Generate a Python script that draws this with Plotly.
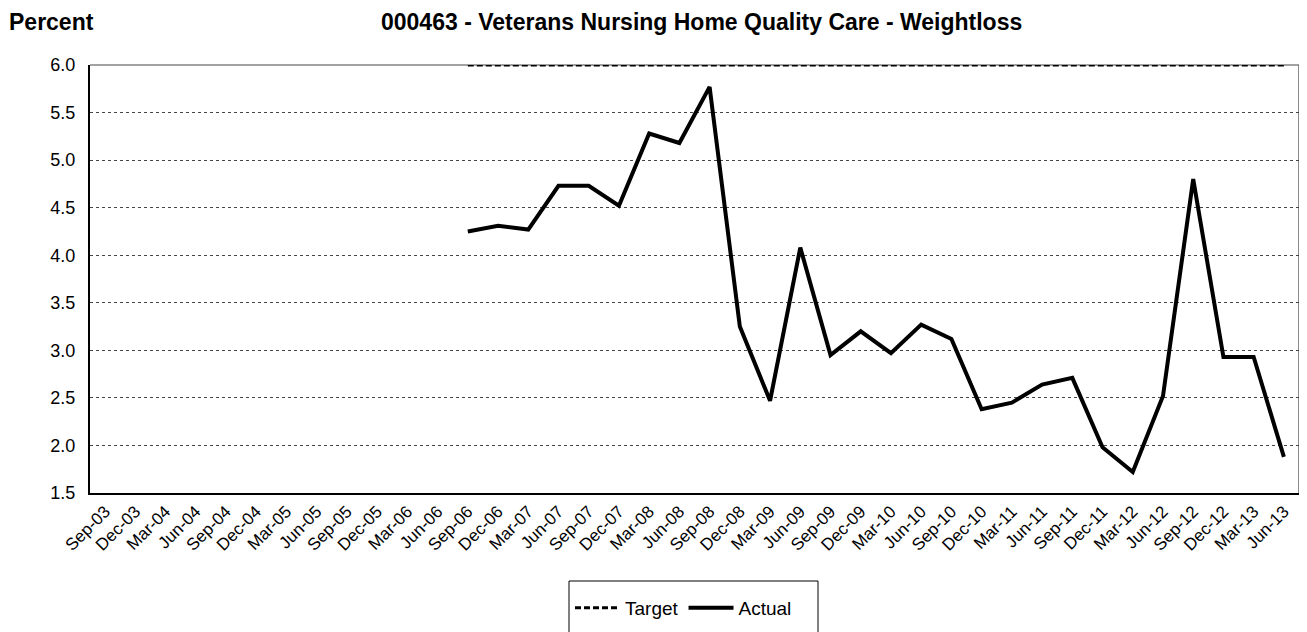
import plotly.graph_objects as go

categories = ["Sep-03", "Dec-03", "Mar-04", "Jun-04", "Sep-04", "Dec-04", "Mar-05", "Jun-05",
              "Sep-05", "Dec-05", "Mar-06", "Jun-06", "Sep-06", "Dec-06", "Mar-07", "Jun-07",
              "Sep-07", "Dec-07", "Mar-08", "Jun-08", "Sep-08", "Dec-08", "Mar-09", "Jun-09",
              "Sep-09", "Dec-09", "Mar-10", "Jun-10", "Sep-10", "Dec-10", "Mar-11", "Jun-11",
              "Sep-11", "Dec-11", "Mar-12", "Jun-12", "Sep-12", "Dec-12", "Mar-13", "Jun-13"]

N = None
target = [N] * 12 + [6.0] * 28
actual = [N] * 12 + [4.25, 4.31, 4.27, 4.73, 4.73, 4.52, 5.28, 5.18, 5.77, 3.25,
                     2.47, 4.08, 2.95, 3.20, 2.97, 3.27, 3.12, 2.38, 2.45, 2.64,
                     2.71, 1.98, 1.72, 2.52, 4.80, 2.93, 2.93, 1.88]
y_ticks = [1.5, 2.0, 2.5, 3.0, 3.5, 4.0, 4.5, 5.0, 5.5, 6.0]

FONT = "Arial, Liberation Sans, sans-serif"
TITLE = "000463 - Veterans Nursing Home Quality Care - Weightloss"

# the page body adds an 8px offset, so the figure is 8px smaller and margins shifted
W, H = 1299, 624
L, T = 82, 57
R = 8
B = H - (493 - 8)
PW = W - L - R
PH = H - T - B

fig = go.Figure()
fig.add_trace(go.Scatter(x=categories, y=target, mode="lines", name="Target",
                         line=dict(color="black", width=3, dash="6px,3px")))
fig.add_trace(go.Scatter(x=categories, y=actual, mode="lines", name="Actual",
                         line=dict(color="black", width=4)))

fig.update_layout(
    width=W, height=H,
    margin=dict(l=L, r=R, t=T, b=B, autoexpand=False),
    paper_bgcolor="white", plot_bgcolor="white",
    font=dict(family=FONT, size=18, color="black"),
    showlegend=True,
    legend=dict(orientation="h", x=0.4909, xanchor="center", y=-0.2687, yanchor="middle",
                borderwidth=0, font=dict(size=19), itemwidth=45,
                bgcolor="rgba(0,0,0,0)"),
    xaxis=dict(type="category", range=[-0.5, len(categories) - 0.5],
               tickangle=-45, showgrid=False, showline=True, linecolor="black",
               linewidth=2, ticks="", tickfont=dict(size=17), automargin=False),
    yaxis=dict(range=[1.5, 6.0], tickvals=y_ticks,
               ticktext=[f"{v:.1f}" for v in y_ticks],
               showgrid=True, gridcolor="#444444", griddash="dot", gridwidth=1,
               showline=True, linecolor="black", linewidth=2, ticks="",
               ticklabelstandoff=9, tickfont=dict(size=18), zeroline=False,
               automargin=False),
    annotations=[dict(text="<b>Percent</b>", xref="paper", yref="paper",
                      x=-L / PW, y=1 + T / PH, xanchor="left", yanchor="top",
                      borderpad=0,
                      showarrow=False, font=dict(size=23, family=FONT)),
                 dict(text=f"<b>{TITLE}</b>", xref="paper", yref="paper",
                      x=(701.5 - 90) / PW, y=1 + T / PH, xanchor="center", yanchor="top",
                      borderpad=0,
                      showarrow=False, font=dict(size=23, family=FONT))],
    shapes=[dict(type="line", xref="paper", yref="paper", x0=0, x1=1, y0=1, y1=1,
                 line=dict(color="#444444", width=1), layer="below"),
            dict(type="line", xref="paper", yref="paper", x0=1, x1=1, y0=0, y1=1,
                 line=dict(color="#666666", width=1.5), layer="below"),
            dict(type="rect", xref="paper", yref="paper",
                 x0=(569 - 90) / PW, x1=(818 - 90) / PW,
                 y0=-(581 - 493) / PH, y1=-0.40,
                 line=dict(color="black", width=1), fillcolor="rgba(0,0,0,0)")],
)

fig.write_html("out.html")
